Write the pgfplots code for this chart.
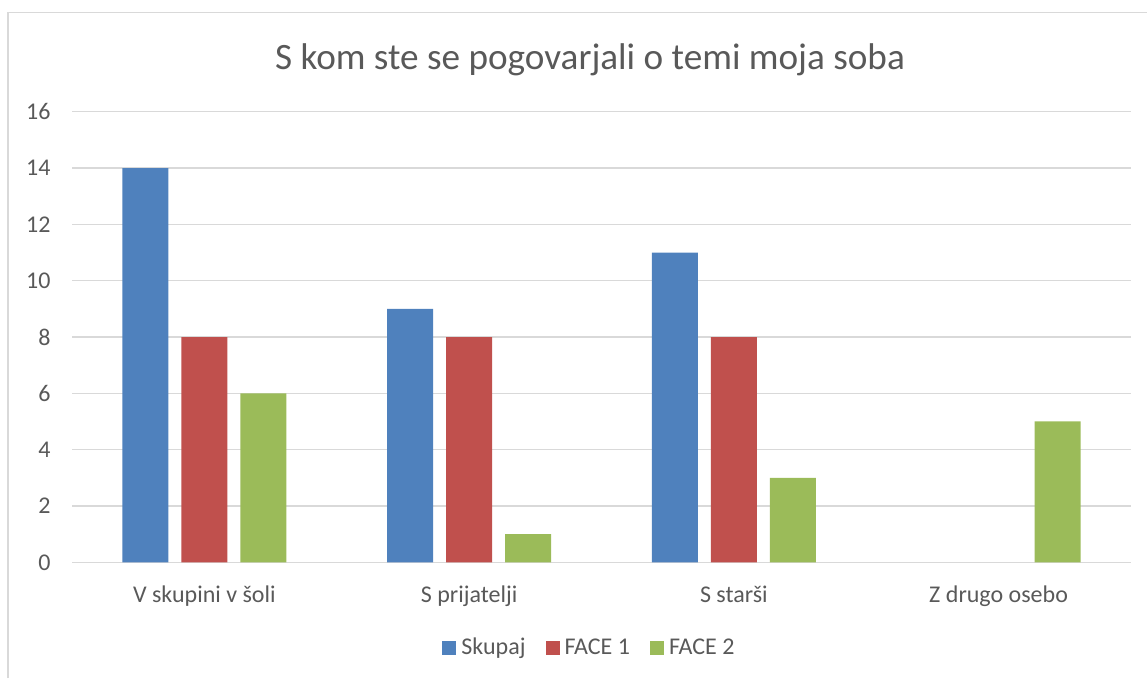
\documentclass[border=0pt]{standalone}
\usepackage{fontspec}
\setmainfont{Carlito}
\usepackage{pgfplots}
\pgfplotsset{compat=1.18}
\definecolor{cA}{HTML}{4F81BD}
\definecolor{cB}{HTML}{C0504D}
\definecolor{cC}{HTML}{9BBB59}
\definecolor{txt}{HTML}{595959}
\definecolor{gridc}{HTML}{D9D9D9}
\pgfplotsset{sqleg/.style={legend image code/.code={\fill[##1] (0pt,0pt) rectangle (14pt,14pt);}}}
\begin{document}
\begin{tikzpicture}[x=1pt,y=1pt]
\useasboundingbox (0,0) rectangle (1147,678);
\draw[color=gridc, line width=1.3pt] (8,0) -- (8,665.3) -- (1147,665.3);
\node[anchor=base, text=txt, font=\fontsize{37.2}{44}\selectfont, inner sep=0pt] at (590,608) {S kom ste se pogovarjali o temi moja soba};
\begin{axis}[
  at={(72pt,115.7pt)}, anchor=south west,
  scale only axis, width=1059pt, height=450.6pt,
  xmin=-0.5, xmax=3.5, ymin=0, ymax=16,
  ybar=13pt, bar width=46pt,
  xtick={0,1,2,3},
  xticklabels={V skupini v šoli, S prijatelji, S starši, Z drugo osebo},
  ytick={0,2,...,16},
  ymajorgrids, grid style={color=gridc, line width=1.3pt},
  axis line style={draw=none}, major tick length=0pt,
  tick label style={font=\fontsize{24}{28}\selectfont, text=txt},
  /pgf/number format/assume math mode=true,
  xticklabel style={anchor=base, yshift=-39.7pt},
  yticklabel style={anchor=east, xshift=-18pt},
  legend columns=3,
  legend style={draw=none, fill=none, at={(axis description cs:0.4877,-0.188)}, anchor=center,
    font=\fontsize{24}{28}\selectfont, text=txt,
    cells={anchor=base west},
    /tikz/every odd column/.append style={column sep=5pt},
    /tikz/every even column/.append style={column sep=20pt},
    nodes={inner sep=0pt}},
]
\addplot[fill=cA, draw=none, sqleg] coordinates {(0,14) (1,9) (2,11)};
\addplot[fill=cB, draw=none, sqleg] coordinates {(0,8) (1,8) (2,8)};
\addplot[fill=cC, draw=none, sqleg] coordinates {(0,6) (1,1) (2,3) (3,5)};
\legend{Skupaj, FACE 1, FACE 2}
\end{axis}
\end{tikzpicture}
\end{document}
